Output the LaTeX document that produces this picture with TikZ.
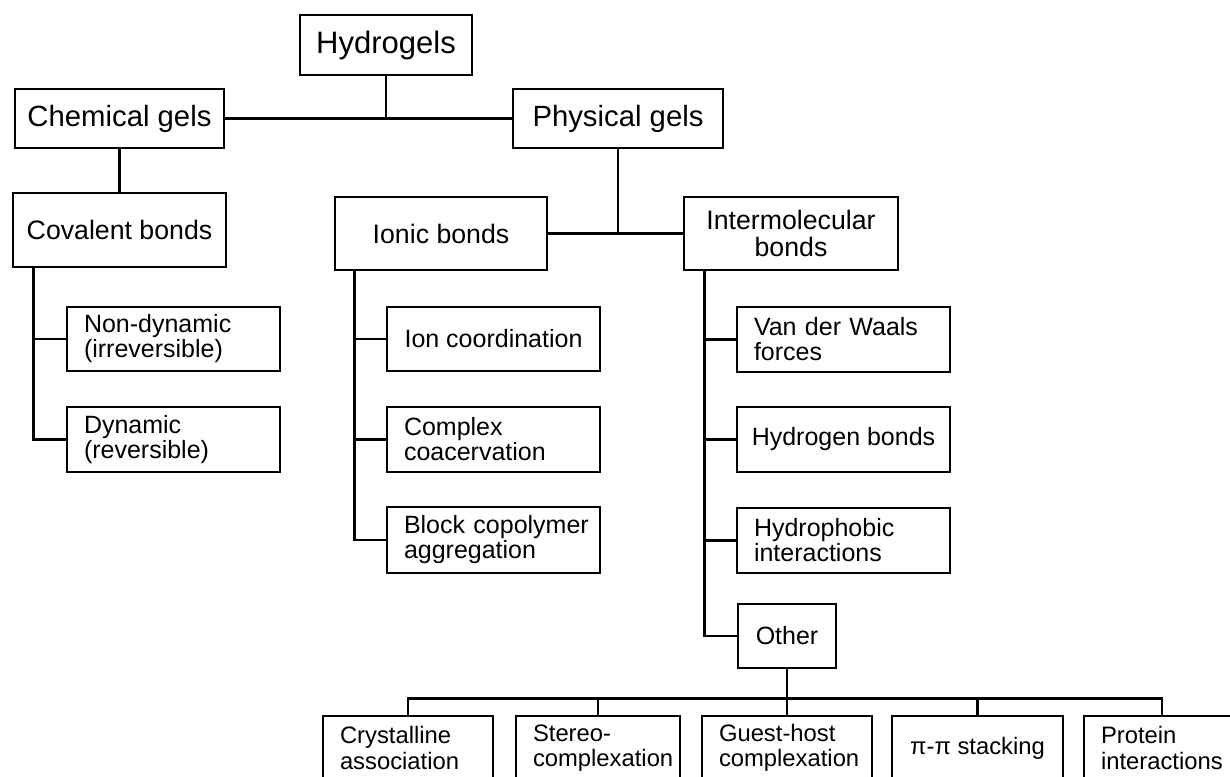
\documentclass[tikz,border=0pt]{standalone}
\usepackage{fontspec}
\setmainfont{Liberation Sans}
\usetikzlibrary{calc}

\tikzset{
  box/.style={draw, rectangle, line width=2.9pt, inner sep=0pt, align=center},
  topfont/.style={font=\fontsize{29.3}{30}\selectfont},
  midfont/.style={font=\fontsize{26.7}{27}\selectfont},
  leaffont/.style={font=\fontsize{25}{25}\selectfont},
  lowfont/.style={font=\fontsize{23.8}{25.5}\selectfont},
  % left-aligned multi-line label with a fixed inset
  inset/.style={align=left, inner xsep=17pt, text width=#1},
  wire/.style={line width=2.9pt},
}

\begin{document}
\begin{tikzpicture}[x=1pt, y=-1pt]
\clip (0,0) rectangle (1230,776);
\fill[white] (0,0) rectangle (1230,776);

% top levels
\node[box, font=\fontsize{31}{31}\selectfont, minimum width=172pt, minimum height=60pt] (hyd) at (386,45) {Hydrogels};
\node[box, topfont, minimum width=209pt, minimum height=59pt] (chem) at (119.5,118.5) {Chemical gels};
\node[box, topfont, minimum width=210pt, minimum height=59pt] (phys) at (618,118.5) {Physical gels};

% bond families
\node[box, midfont, minimum width=213pt, minimum height=74pt] (cov) at (119.5,230) {Covalent bonds};
\node[box, midfont, minimum width=212pt, minimum height=73pt] (ionic) at (441,233.5) {Ionic bonds};
\node[box, midfont, minimum width=214pt, minimum height=73pt] (inter) at (791,233.5) {Intermolecular\\bonds};

% covalent branch
\node[box, leaffont, inset=179pt, minimum height=64pt] (nondyn) at (173.5,339) {\mbox{Non-dynamic}\\\mbox{(irreversible)}};
\node[box, leaffont, inset=179pt, minimum height=65pt] (dyn) at (173.5,439.5) {\mbox{Dynamic}\\\mbox{(reversible)}};

% ionic branch
\node[box, leaffont, minimum width=213pt, minimum height=64pt] (ioncoord) at (493.5,339) {Ion coordination};
\node[box, leaffont, inset=179pt, minimum height=65pt] (coacerv) at (493.5,439.5) {\mbox{Complex}\\\mbox{coacervation}};
\node[box, leaffont, inset=179pt, minimum height=66pt] (blockco) at (493.5,540) {\mbox{Block copolymer}\\\mbox{aggregation}};

% intermolecular branch
\node[box, leaffont, inset=179pt, minimum height=65pt] (vdw) at (843.5,339.5) {\mbox{Van der Waals}\\\mbox{forces}};
\node[box, leaffont, minimum width=213pt, minimum height=65pt] (hbond) at (843.5,439.5) {Hydrogen bonds};
\node[box, leaffont, inset=179pt, minimum height=65pt] (hphob) at (843.5,540.5) {\mbox{Hydrophobic}\\\mbox{interactions}};
\node[box, leaffont, minimum width=98pt, minimum height=64pt] (other) at (787,636) {Other};

% other interactions
\node[box, lowfont, inset=136pt, minimum height=64pt] (cryst) at (408,748) {\mbox{Crystalline}\\\mbox{association}};
\node[box, lowfont, inset=130pt, minimum height=64pt] (stereo) at (598,748) {\mbox{Stereo-}\\\mbox{complexation}};
\node[box, lowfont, inset=136pt, minimum height=64pt] (guest) at (787,748) {\mbox{Guest-host}\\\mbox{complexation}};
\node[box, lowfont, minimum width=171pt, minimum height=64pt] (pipi) at (977.5,748) {π-π stacking};
\node[box, lowfont, inset=122pt, minimum height=64pt] (protein) at (1162,748) {\mbox{Protein}\\\mbox{interactions}};

% connectors: top
\draw[wire] (chem.east) -- (phys.west);
\draw[wire] (hyd.south) -- (hyd.south |- chem.east);
\draw[wire] (chem.south) -- (cov.north);
\draw[wire] (ionic.east) -- (inter.west);
\draw[wire] (phys.south) -- (phys.south |- ionic.east);

% trunks
\coordinate (ct) at ($(cov.south west)+(22,0)$);
\coordinate (it) at ($(ionic.south west)+(21,0)$);
\coordinate (mt) at ($(inter.south west)+(22,0)$);

\draw[wire] (ct) |- (dyn.west);
\draw[wire] (ct |- nondyn.west) -- (nondyn.west);

\draw[wire] (it) |- (blockco.west);
\draw[wire] (it |- ioncoord.west) -- (ioncoord.west);
\draw[wire] (it |- coacerv.west) -- (coacerv.west);

\draw[wire] (mt) |- (other.west);
\draw[wire] (mt |- vdw.west) -- (vdw.west);
\draw[wire] (mt |- hbond.west) -- (hbond.west);
\draw[wire] (mt |- hphob.west) -- (hphob.west);

% bus under "Other"
\coordinate (bus) at ($(other.south)+(0,29)$);
\draw[wire] (cryst.north) |- (bus) -| (protein.north);
\draw[wire] (other.south) -- (guest.north);
\draw[wire] (stereo.north) -- (stereo.north |- bus);
\draw[wire] (pipi.north) -- (pipi.north |- bus);
\end{tikzpicture}
\end{document}
